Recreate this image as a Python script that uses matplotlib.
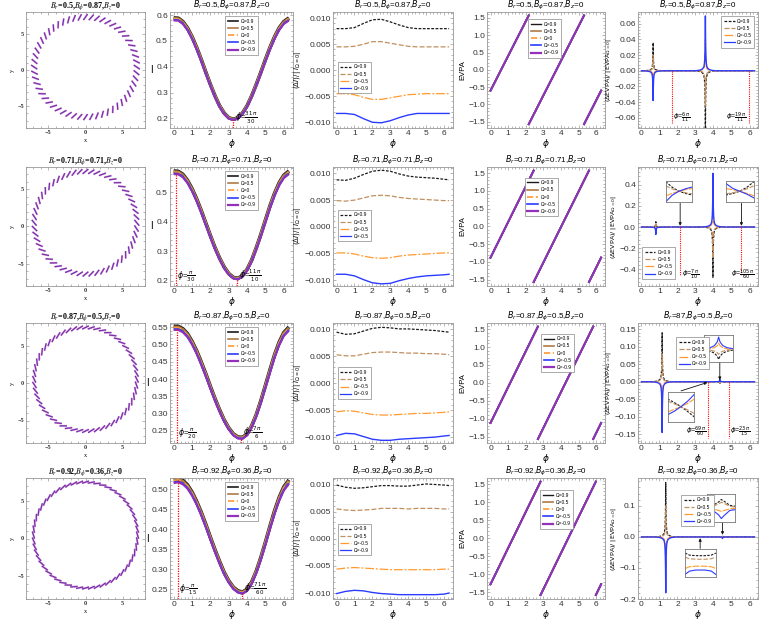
import numpy as np
import matplotlib.pyplot as plt
from matplotlib.collections import LineCollection
from matplotlib.lines import Line2D
from matplotlib.ticker import FuncFormatter, AutoMinorLocator

plt.rcParams['font.family'] = ['Liberation Sans', 'DejaVu Sans']
plt.rcParams['mathtext.fontset'] = 'dejavusans'

# ---------------- data ----------------
titles = [r'$B_r$=0.5,$B_\phi$=0.87,$B_z$=0',
          r'$B_r$=0.71,$B_\phi$=0.71,$B_z$=0',
          r'$B_r$=0.87,$B_\phi$=0.5,$B_z$=0',
          r'$B_r$=0.92,$B_\phi$=0.36,$B_z$=0']
titles_c5 = [titles[0], titles[1], r'$B_r$=87,$B_\phi$=0.5,$B_z$=0', titles[3]]

omega_labels = ['Ω=0.9', 'Ω=0.5', 'Ω=0', 'Ω=-0.5', 'Ω=-0.9']
diff_labels = [['Ω=0.9', 'Ω=0.5', 'Ω=-0.5', 'Ω=-0.9'],
               ['Ω=0.9', 'Ω=0.5', 'Ω=-0.5', 'Ω=-0.5'],
               ['Ω=0.9', 'Ω=0.5', 'Ω=-0.5', 'Ω=-0.9'],
               ['Ω=0.9', 'Ω=0.5', 'Ω=-0.5', 'Ω=-0.9']]

# intensity I(phi) for Omega=0
phi_i = [0, 0.25, 0.5, 0.75, 1.0, 1.25, 1.5, 1.75, 2.0, 2.25, 2.5, 2.75, 3.0,
         3.25, 3.5, 3.75, 4.0, 4.25, 4.5, 4.75, 5.0, 5.25, 5.5, 5.75, 6.0, 6.28]
I_row1 = [0.584, 0.583, 0.570, 0.546, 0.512, 0.471, 0.425, 0.376, 0.329, 0.285, 0.247, 0.219, 0.201,
          0.195, 0.201, 0.219, 0.247, 0.285, 0.329, 0.376, 0.425, 0.471, 0.512, 0.546, 0.570, 0.584]
I_row2 = [0.566, 0.565, 0.555, 0.535, 0.507, 0.473, 0.434, 0.392, 0.350, 0.310, 0.275, 0.245, 0.223,
          0.210, 0.207, 0.216, 0.237, 0.268, 0.309, 0.354, 0.402, 0.450, 0.492, 0.527, 0.552, 0.566]
I_row3 = [0.547, 0.547, 0.540, 0.526, 0.504, 0.477, 0.445, 0.411, 0.375, 0.340, 0.308, 0.279, 0.256,
          0.239, 0.230, 0.229, 0.239, 0.262, 0.294, 0.334, 0.378, 0.423, 0.466, 0.502, 0.529, 0.545]
I_row4 = [0.520, 0.522, 0.517, 0.506, 0.488, 0.465, 0.438, 0.408, 0.376, 0.345, 0.316, 0.289, 0.268,
          0.252, 0.243, 0.240, 0.247, 0.265, 0.292, 0.326, 0.364, 0.404, 0.442, 0.475, 0.501, 0.518]
I_rows = [I_row1, I_row2, I_row3, I_row4]

# (Delta I)/|I_{Omega=0}| for Omega = 0.9, 0.5, -0.5, -0.9
phi_d = [0, 0.5, 1.0, 1.5, 2.0, 2.5, 3.0, 3.5, 4.0, 4.5, 5.0, 5.5, 6.0, 6.28]
dI_row1 = [[0.0080, 0.0080, 0.0082, 0.0090, 0.0097, 0.0098, 0.0093, 0.0087, 0.0082, 0.0080, 0.0080, 0.0080, 0.0080, 0.0080],
           [0.0045, 0.0045, 0.0046, 0.0050, 0.0055, 0.0055, 0.0052, 0.0049, 0.0046, 0.0045, 0.0045, 0.0045, 0.0045, 0.0045],
           [-0.0045, -0.0045, -0.0047, -0.0052, -0.0056, -0.0056, -0.0053, -0.0050, -0.0047, -0.0046, -0.0045, -0.0045, -0.0045, -0.0045],
           [-0.0083, -0.0083, -0.0085, -0.0093, -0.0100, -0.0101, -0.0097, -0.0091, -0.0086, -0.0083, -0.0083, -0.0083, -0.0083, -0.0083]]
dI_row2 = [[0.0088, 0.0087, 0.0091, 0.0098, 0.0104, 0.0106, 0.0104, 0.0099, 0.0095, 0.0093, 0.0092, 0.0091, 0.0089, 0.0088],
           [0.0049, 0.0048, 0.0050, 0.0054, 0.0058, 0.0059, 0.0058, 0.0055, 0.0053, 0.0052, 0.0051, 0.0050, 0.0049, 0.0049],
           [-0.0049, -0.0049, -0.0051, -0.0055, -0.0058, -0.0059, -0.0058, -0.0055, -0.0053, -0.0052, -0.0051, -0.0050, -0.0049, -0.0049],
           [-0.0089, -0.0089, -0.0092, -0.0099, -0.0105, -0.0107, -0.0106, -0.0101, -0.0097, -0.0094, -0.0092, -0.0091, -0.0090, -0.0089]]
dI_row3 = [[0.0095, 0.0091, 0.0092, 0.0097, 0.0102, 0.0104, 0.0103, 0.0101, 0.0101, 0.0100, 0.0099, 0.0098, 0.0096, 0.0095],
           [0.0053, 0.0051, 0.0051, 0.0054, 0.0057, 0.0058, 0.0058, 0.0057, 0.0056, 0.0056, 0.0055, 0.0055, 0.0054, 0.0053],
           [-0.0053, -0.0051, -0.0052, -0.0055, -0.0058, -0.0059, -0.0059, -0.0058, -0.0057, -0.0056, -0.0056, -0.0055, -0.0054, -0.0053],
           [-0.0097, -0.0093, -0.0094, -0.0099, -0.0104, -0.0106, -0.0106, -0.0104, -0.0103, -0.0102, -0.0101, -0.0100, -0.0098, -0.0097]]
dI_row4 = [[0.0099, 0.0095, 0.0093, 0.0094, 0.0096, 0.0098, 0.0098, 0.0097, 0.0097, 0.0099, 0.0101, 0.0100, 0.0099, 0.0098],
           [0.0055, 0.0053, 0.0052, 0.0053, 0.0054, 0.0056, 0.0056, 0.0056, 0.0055, 0.0056, 0.0056, 0.0056, 0.0055, 0.0055],
           [-0.0056, -0.0054, -0.0053, -0.0054, -0.0055, -0.0056, -0.0057, -0.0057, -0.0057, -0.0057, -0.0057, -0.0057, -0.0056, -0.0056],
           [-0.0101, -0.0097, -0.0095, -0.0096, -0.0099, -0.0101, -0.0102, -0.0103, -0.0103, -0.0103, -0.0103, -0.0103, -0.0102, -0.0100]]
dI_rows = [dI_row1, dI_row2, dI_row3, dI_row4]

# EVPA: straight pieces (phi, value) pairs, three pieces per row
evpa_phi = [[0, 2.17, 2.17, 5.31, 5.31, 6.28],
            [0, 2.45, 2.45, 5.59, 5.59, 6.28],
            [0, 2.69, 2.69, 5.83, 5.83, 6.28],
            [0, 2.84, 2.84, 5.98, 5.98, 6.28]]
evpa_val = [[-0.60, 1.57, -1.57, 1.57, -1.57, -0.60],
            [-0.88, 1.57, -1.57, 1.57, -1.57, -0.88],
            [-1.12, 1.57, -1.57, 1.57, -1.57, -1.12],
            [-1.27, 1.57, -1.57, 1.57, -1.57, -1.27]]

# polarization ticks on the ring
ring_radius = [6.9, 6.9, 6.9, 7.0]
ring_cy = [0.4, 0.5, 0.5, 0.45]
ring_ticks = 56

# marked extrema in the I panels: phi, curve value, label
imark_phi = [[31 * np.pi / 30], [np.pi / 30, 11 * np.pi / 10],
             [np.pi / 20, 7 * np.pi / 6], [np.pi / 15, 71 * np.pi / 60]]
imark_top = [[0.195], [0.566, 0.207], [0.548, 0.228], [0.522, 0.240]]
imark_text = [[r'\frac{31\,\pi}{30}'], [r'\frac{\pi}{30}', r'\frac{11\,\pi}{10}'],
              [r'\frac{\pi}{20}', r'\frac{7\,\pi}{6}'], [r'\frac{\pi}{15}', r'\frac{71\,\pi}{60}']]

# (Delta EVPA)' spikes: centres, peak heights for Omega = 0.9, 0.5, -0.5, -0.9
spike_phi = [[0.65, 3.55], [0.80, 3.97], [1.15, 4.35], [1.35, 4.50]]
spike_peak = [[[0.036, -0.080], [0.020, -0.045], [-0.020, 0.040], [-0.038, 0.070]],
              [[0.050, -0.480], [0.030, -0.300], [-0.035, 0.280], [-0.070, 0.510]],
              [[0.140, -0.006], [0.080, -0.004], [-0.080, 0.004], [-0.145, 0.007]],
              [[0.175, 0.004], [0.100, 0.003], [-0.100, -0.003], [-0.180, -0.005]]]
spike_dphi = [0, 0.01, 0.02, 0.035, 0.055, 0.08, 0.12, 0.18, 0.27, 0.4, 0.6]
spike_shape = [1, 0.6, 0.38, 0.22, 0.13, 0.08, 0.05, 0.03, 0.015, 0.006, 0]

c5_ylim = [(-0.073, 0.075), (-0.56, 0.57), (-0.175, 0.168), (-0.195, 0.19)]
c5_yticks = [[-0.06, -0.04, -0.02, 0, 0.02, 0.04, 0.06], [-0.4, -0.2, 0, 0.2, 0.4],
             [-0.15, -0.10, -0.05, 0, 0.05, 0.10, 0.15], [-0.2, -0.1, 0, 0.1]]
c5_fmt = ['%.2f', '%.1f', '%.2f', '%.1f']
c5_mark_phi = [[1.68, 5.95], [2.15, 5.55], [3.68, 4.85], []]
c5_mark_bottom = [-0.066, -0.455, -0.16, 0]
c5_mark_text = [[r'\frac{6\,\pi}{11}', r'\frac{19\,\pi}{11}'], [r'\frac{7\,\pi}{10}', r'\frac{105\,\pi}{60}'],
                [r'\frac{69\,\pi}{60}', r'\frac{23\,\pi}{15}'], []]
c5_mark_side = [['r', 'l'], ['r', 'c'], ['l', 'r'], []]
c5_legend = [('upper right', (0.99, 0.985)), ('lower left', (0.015, 0.04)),
             ('upper left', (0.30, 0.9)), ('upper left', (0.34, 0.88))]

# zoom insets: [x0, y0, w, h] in data units, arrow start/end, curves (x, then 4 series)
insets = [
    [],
    [([1.35, 0.24, 1.47, 0.20], (2.15, 0.225), (2.15, 0.012),
      [0, 0.25, 0.5, 0.75, 1.0],
      [[1.0, 0.7, 0.5, 0.38, 0.3], [0.78, 0.62, 0.5, 0.42, 0.36],
       [0.26, 0.39, 0.5, 0.58, 0.64], [-0.05, 0.3, 0.5, 0.63, 0.72]]),
     ([4.67, 0.24, 1.57, 0.20], (5.55, 0.225), (5.55, 0.012),
      [0, 0.25, 0.5, 0.75, 1.0],
      [[0.3, 0.38, 0.5, 0.7, 1.0], [0.36, 0.42, 0.5, 0.62, 0.78],
       [0.64, 0.58, 0.5, 0.39, 0.26], [0.92, 0.65, 0.5, 0.35, 0.15]])],
    [([3.5, 0.057, 1.57, 0.078], (4.35, 0.055), (4.35, 0.005),
      [0, 0.2, 0.35, 0.45, 0.5, 0.55, 0.65, 0.8, 1.0],
      [[0.42, 0.38, 0.3, 0.18, 0.05, 0.18, 0.3, 0.38, 0.42],
       [0.44, 0.42, 0.38, 0.32, 0.25, 0.32, 0.38, 0.42, 0.44],
       [0.45, 0.47, 0.52, 0.6, 0.7, 0.6, 0.52, 0.47, 0.45],
       [0.48, 0.52, 0.6, 0.75, 0.95, 0.75, 0.6, 0.52, 0.48]]),
     ([1.45, -0.114, 1.49, 0.086], (2.2, -0.026), (3.66, -0.002),
      [0, 0.25, 0.5, 0.75, 1.0],
      [[0.78, 0.65, 0.5, 0.32, 0.12], [0.7, 0.6, 0.5, 0.38, 0.25],
       [0.3, 0.4, 0.5, 0.62, 0.78], [0.2, 0.33, 0.5, 0.7, 0.95]])],
    [([3.65, 0.047, 1.57, 0.090], (4.5, 0.045), (4.5, 0.007),
      [0, 0.2, 0.4, 0.5, 0.6, 0.8, 1.0],
      [[0.58, 0.62, 0.75, 0.85, 0.78, 0.62, 0.58], [0.55, 0.58, 0.68, 0.74, 0.7, 0.58, 0.55],
       [0.5, 0.48, 0.42, 0.38, 0.42, 0.48, 0.5], [0.45, 0.42, 0.25, 0.1, 0.22, 0.42, 0.45]]),
     ([2.42, -0.129, 1.71, 0.091], (3.26, -0.037), (3.26, -0.004),
      [0, 0.15, 0.35, 0.65, 0.85, 1.0],
      [[0.88, 0.8, 0.78, 0.78, 0.8, 0.88], [0.72, 0.66, 0.64, 0.64, 0.66, 0.72],
       [0.28, 0.35, 0.37, 0.37, 0.35, 0.28], [0.05, 0.18, 0.22, 0.22, 0.18, 0.05]])],
]

I_ylim = [(0.163, 0.612), (0.183, 0.585), (0.215, 0.562), (0.225, 0.528)]
I_yticks = [[0.2, 0.3, 0.4, 0.5, 0.6], [0.2, 0.3, 0.4, 0.5],
            [0.25, 0.30, 0.35, 0.40, 0.45, 0.50, 0.55], [0.25, 0.30, 0.35, 0.40, 0.45, 0.50]]
I_fmt = ['%.1f', '%.1f', '%.2f', '%.2f']

# ---------------- styling ----------------
c_black, c_brown, c_orange, c_blue, c_purple = '#1a1a1a', '#B07A45', '#FF9A30', '#2B3BFF', '#9332B8'
five_colors = [c_black, c_brown, c_orange, c_blue, c_purple]
diff_colors = [c_black, '#C09060', c_orange, c_blue]
diff_dashes = [(2.2, 1.2), (4, 1.6), (7, 1.5, 1.5, 1.5), None]
frame_c = '#999999'
xlim_phi = (-0.2, 6.5)

W, H = 763, 633
fig = plt.figure(figsize=(W / 100, H / 100), dpi=100)
col_x = [(26, 119), (170, 123), (333, 120), (487, 118), (638, 120)]
row_y = [(12, 128), (167, 286), (323, 443), (478, 599)]


def make_ax(r, c):
    l, w = col_x[c]
    t, b = row_y[r]
    return fig.add_axes([l / W, 1 - b / H, w / W, (b - t) / H])


def minus_fmt(fmt):
    return FuncFormatter(lambda v, p: (fmt % v).replace('-', '\u2212') if abs(v) > 1e-12 else fmt % 0)


def style(ax, fs=6):
    for s in ax.spines.values():
        s.set_color(frame_c)
        s.set_linewidth(0.6)
    ax.tick_params(which='both', direction='in', top=True, right=True, color=frame_c,
                   labelsize=fs, labelcolor='#333333', pad=1.5, width=0.5)
    ax.tick_params(which='major', length=2.5)
    ax.tick_params(which='minor', length=1.3)
    ax.xaxis.set_minor_locator(AutoMinorLocator(5))
    ax.yaxis.set_minor_locator(AutoMinorLocator(5))


def small_legend(ax, handles, labels, loc, anchor):
    lg = ax.legend(handles, labels, loc=loc, bbox_to_anchor=anchor, fontsize=3.5,
                   handlelength=2.2, handletextpad=0.5, labelspacing=0.45, borderpad=0.5,
                   fancybox=False, framealpha=1, edgecolor='#888888')
    lg.get_frame().set_linewidth(0.5)


for r in range(4):
    # ---- column 1: polarization ticks on the ring ----
    ax = make_ax(r, 0)
    tick_phi = np.linspace(0, 2 * np.pi, ring_ticks, endpoint=False)
    ang = np.interp(tick_phi, evpa_phi[r], evpa_val[r])
    cx = ring_radius[r] * np.cos(tick_phi)
    cy = ring_cy[r] + ring_radius[r] * np.sin(tick_phi)
    dx, dy = 0.5 * np.cos(ang), 0.5 * np.sin(ang)
    segs = [[(x - u, y - v), (x + u, y + v)] for x, y, u, v in zip(cx, cy, dx, dy)]
    ax.add_collection(LineCollection(segs, colors='#C49BDD', linewidths=1.4))
    ax.add_collection(LineCollection(segs, colors='#7E2AA6', linewidths=0.8))
    ax.set_xlim(-8, 8)
    ax.set_ylim(-8, 8)
    ax.set_xticks([-5, 0, 5])
    ax.set_yticks([-5, 0, 5])
    style(ax, fs=4.5)
    for t in ax.get_xticklabels() + ax.get_yticklabels():
        t.set_family('Liberation Serif')
        t.set_weight('bold')
    ax.xaxis.set_major_formatter(minus_fmt('%d'))
    ax.yaxis.set_major_formatter(minus_fmt('%d'))
    ax.set_xlabel('x', fontsize=4.5, family='Liberation Serif', labelpad=2)
    ax.set_ylabel('y', fontsize=4.5, family='Liberation Serif', labelpad=2)
    ax.set_title(titles[r], fontsize=5.8, family='Liberation Serif', weight='bold',
                 math_fontfamily='stix', pad=1.5)

    # ---- column 2: intensity ----
    ax = make_ax(r, 1)
    base = np.array(I_rows[r])
    rel = [np.mean(dI_rows[r][0]), np.mean(dI_rows[r][1]), 0.0,
           np.mean(dI_rows[r][2]), np.mean(dI_rows[r][3])]
    widths = [2.6, 2.2, 1.8, 1.5, 1.3]
    for k in range(5):
        ls = (0, (3, 1.5)) if k == 2 else '-'
        ax.plot(phi_i, base * (1 + rel[k]), color=five_colors[k], lw=widths[k], ls=ls,
                label=omega_labels[k], solid_capstyle='butt')
    ax.set_ylim(*I_ylim[r])
    for p, top, txt in zip(imark_phi[r], imark_top[r], imark_text[r]):
        ax.plot([p, p], [I_ylim[r][0], top], color='red', lw=0.9, ls=(0, (1, 1)))
        ax.text(p + 0.1, I_ylim[r][0] + 0.02 * (I_ylim[r][1] - I_ylim[r][0]),
                r'$\phi$=$' + txt + '$', fontsize=5.6, va='bottom', ha='left')
    ax.set_xlim(*xlim_phi)
    ax.set_xticks(range(7))
    ax.set_yticks(I_yticks[r])
    style(ax)
    ax.yaxis.set_major_formatter(minus_fmt(I_fmt[r]))
    ax.set_xlabel(r'$\phi$', fontsize=6.5, labelpad=0)
    ax.set_ylabel('I', fontsize=7, labelpad=3, rotation=0, va='center')
    ax.set_title(titles[r], fontsize=5.8, pad=1.5)
    hs = [Line2D([], [], color=five_colors[k], lw=[1.2, 1.2, 1.2, 1.2, 1.6][k],
                 ls='--' if k == 2 else '-') for k in range(5)]
    small_legend(ax, hs, omega_labels, 'upper left', (0.43, 0.985))

    # ---- column 3: relative intensity difference ----
    ax = make_ax(r, 2)
    for k in range(4):
        ln, = ax.plot(phi_d, dI_rows[r][k], color=diff_colors[k], lw=0.9 if k < 3 else 1.0)
        if diff_dashes[k] is not None:
            ln.set_dashes(diff_dashes[k])
    ax.set_xlim(*xlim_phi)
    ax.set_ylim(-0.0111, 0.0112)
    ax.set_xticks(range(7))
    ax.set_yticks([-0.010, -0.005, 0, 0.005, 0.010])
    style(ax)
    ax.yaxis.set_major_formatter(minus_fmt('%.3f'))
    ax.set_xlabel(r'$\phi$', fontsize=6.5, labelpad=0)
    ax.set_ylabel(r'$(\Delta I)/\,|\,I_{\Omega=0}|$', fontsize=5, labelpad=1)
    ax.set_title(titles[r], fontsize=5.8, pad=1.5)
    hs = []
    for k in range(4):
        h = Line2D([], [], color=diff_colors[k], lw=0.9)
        if diff_dashes[k] is not None:
            h.set_dashes(diff_dashes[k])
        hs.append(h)
    small_legend(ax, hs, diff_labels[r], 'upper left', (0.02, [0.59, 0.66, 0.65, 0.64][r]))

    # ---- column 4: EVPA ----
    ax = make_ax(r, 3)
    ep, ev = evpa_phi[r], evpa_val[r]
    for k in range(5):
        for j in range(0, 6, 2):
            ax.plot(ep[j:j + 2], ev[j:j + 2], color=five_colors[k], lw=[1.4, 1.3, 1.2, 1.2, 1.3][k],
                    ls='--' if k == 2 else '-')
    ax.set_xlim(*xlim_phi)
    ax.set_ylim(-1.68, 1.67)
    ax.set_xticks(range(7))
    ax.set_yticks([-1.5, -1.0, -0.5, 0, 0.5, 1.0, 1.5])
    style(ax)
    ax.yaxis.set_major_formatter(minus_fmt('%.1f'))
    ax.set_xlabel(r'$\phi$', fontsize=6.5, labelpad=0)
    ax.set_ylabel('EVPA', fontsize=5.5, labelpad=1)
    ax.set_title(titles[r], fontsize=5.8, pad=1.5)
    hs = [Line2D([], [], color=five_colors[k], lw=[1.0, 1.2, 1.2, 1.2, 1.6][k],
                 ls='--' if k == 2 else '-') for k in range(5)]
    small_legend(ax, hs, omega_labels, 'upper left', ([0.33, 0.3, 0.44, 0.43][r], [0.96, 0.93, 0.93, 0.92][r]))

    # ---- column 5: relative EVPA difference ----
    ax = make_ax(r, 4)
    for k in range(4):
        xs, ys = [0.0], [0.0]
        for c, pk in zip(spike_phi[r], spike_peak[r][k]):
            for d, s in zip(spike_dphi[::-1], spike_shape[::-1]):
                xs.append(c - d)
                ys.append(pk * s)
            for d, s in zip(spike_dphi[1:], spike_shape[1:]):
                xs.append(c + d)
                ys.append(pk * s)
        xs.append(6.28)
        ys.append(0.0)
        ln, = ax.plot(xs, ys, color=diff_colors[k], lw=0.9 if k < 3 else 1.0)
        if diff_dashes[k] is not None:
            ln.set_dashes(diff_dashes[k] if k != 2 else (6, 1.2))
    bot = c5_mark_bottom[r]
    for p, txt, side in zip(c5_mark_phi[r], c5_mark_text[r], c5_mark_side[r]):
        ax.plot([p, p], [0, bot], color='red', lw=0.8, ls=(0, (1, 1)))
        span = c5_ylim[r][1] - c5_ylim[r][0]
        xo = {'r': p + 0.08, 'l': p - 0.08, 'c': p - 0.6}[side]
        ha = {'r': 'left', 'l': 'right', 'c': 'left'}[side]
        ax.text(xo, c5_ylim[r][0] + 0.03 * span, r'$\phi$=$' + txt + '$', fontsize=5,
                ha=ha, va='bottom')
    for rect, a0, a1, ix, curves in insets[r]:
        ia = ax.inset_axes(rect, transform=ax.transData)
        for k in range(4):
            ln, = ia.plot(ix, curves[k], color=diff_colors[k], lw=0.8)
            if diff_dashes[k] is not None:
                ln.set_dashes(diff_dashes[k] if k != 2 else (6, 1.2))
        ia.set_xlim(0, 1)
        ia.set_ylim(-0.05, 1.05)
        ia.set_xticks([])
        ia.set_yticks([])
        for s in ia.spines.values():
            s.set_color('#777777')
            s.set_linewidth(0.6)
        ax.annotate('', xy=a1, xytext=a0,
                    arrowprops=dict(arrowstyle='-|>', color='#111111', lw=0.6, mutation_scale=4,
                                    shrinkA=0, shrinkB=0))
    ax.set_xlim(-0.19, 6.47)
    ax.set_ylim(*c5_ylim[r])
    ax.set_xticks(range(7))
    ax.set_yticks(c5_yticks[r])
    style(ax)
    ax.yaxis.set_major_formatter(minus_fmt(c5_fmt[r]))
    ax.set_xlabel(r'$\phi$', fontsize=6.5, labelpad=0)
    ax.set_ylabel(r'$(\Delta \mathrm{EVPA})/\,|\,\mathrm{EVPA}_{\Omega=0}|$', fontsize=4.6, labelpad=1)
    ax.set_title(titles_c5[r], fontsize=5.8, pad=1.5)
    hs = []
    for k in range(4):
        h = Line2D([], [], color=diff_colors[k], lw=0.9)
        if diff_dashes[k] is not None:
            h.set_dashes(diff_dashes[k])
        hs.append(h)
    small_legend(ax, hs, ['Ω=0.9', 'Ω=0.5', 'Ω=-0.5', 'Ω=-0.9'], *c5_legend[r])

fig.savefig('out.png', dpi=100)
